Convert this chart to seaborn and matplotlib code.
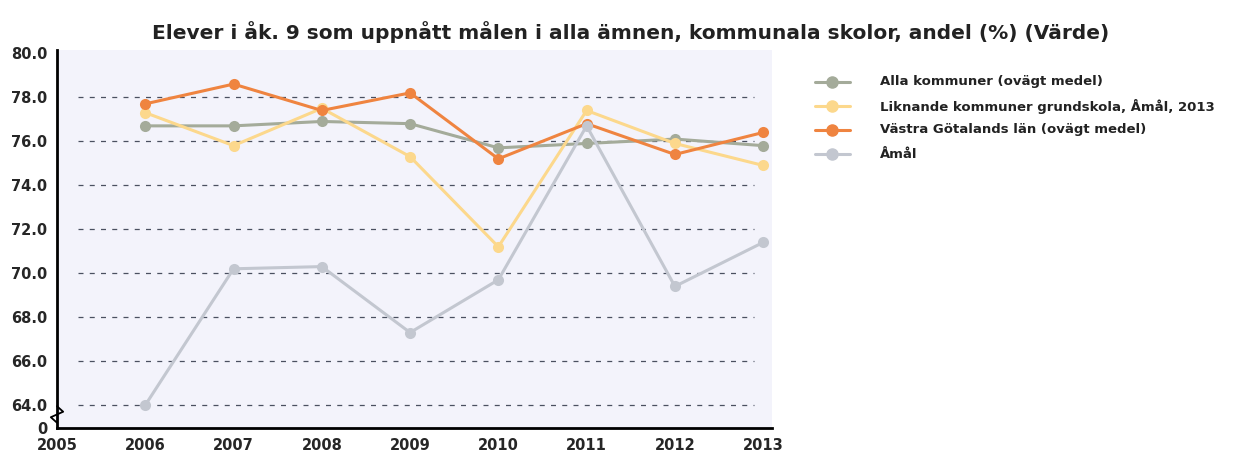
import pandas as pd
import matplotlib.pyplot as plt
import seaborn as sns

years = [2006, 2007, 2008, 2009, 2010, 2011, 2012, 2013]
alla = [76.7, 76.7, 76.9, 76.8, 75.7, 75.9, 76.1, 75.8]
liknande = [77.3, 75.8, 77.5, 75.3, 71.2, 77.4, 75.9, 74.9]
vastra = [77.7, 78.6, 77.4, 78.2, 75.2, 76.8, 75.4, 76.4]
amal = [64.0, 70.2, 70.3, 67.3, 69.7, 76.7, 69.4, 71.4]

series = ['Alla kommuner (ovägt medel)',
          'Liknande kommuner grundskola, Åmål, 2013',
          'Västra Götalands län (ovägt medel)',
          'Åmål']
colors = ['#a4ab9a', '#fcd88c', '#ef8440', '#c3c7d0']

df = pd.concat([
    pd.DataFrame({'År': years, 'Värde': vals, 'Serie': name})
    for name, vals in zip(series, [alla, liknande, vastra, amal])
])

sns.set_style('white')
plt.rcParams['font.family'] = ['DejaVu Sans']

fig = plt.figure(figsize=(12.44, 4.59), dpi=100)
ax = fig.add_axes([57 / 1244, 31 / 459, 715 / 1244, 378 / 459])
ax.set_facecolor('#f3f3fb')

ymin = 62.96
# dashed grid, not full width
for y in range(64, 80, 2):
    ax.axhline(y, xmin=0.03, xmax=0.975, color='#4a5060', lw=0.9, ls=(0, (4, 5)), zorder=1)

sns.lineplot(data=df, x='År', y='Värde', hue='Serie', hue_order=series,
             palette=colors, marker='o', markersize=8, markeredgewidth=0,
             linewidth=2.2, ax=ax, zorder=3, legend=False)

ax.set_xlim(2005, 2013.1)
ax.set_ylim(ymin, 80.15)
ax.set_xticks(list(range(2005, 2014)))
ax.set_xticklabels([str(y) for y in range(2005, 2014)], fontsize=10.5, fontweight='bold')
yt = [ymin] + list(range(64, 82, 2))
ax.set_yticks(yt)
ax.set_yticklabels(['0'] + [f'{v:.1f}' for v in range(64, 82, 2)],
                   fontsize=10.5, fontweight='bold')
ax.tick_params(axis='x', length=5, width=1.5, color='black', direction='out', pad=2)
ax.tick_params(axis='y', length=0, pad=7)
ax.set_xlabel('')
ax.set_ylabel('')

for s in ['top', 'right']:
    ax.spines[s].set_visible(False)
for s in ['left', 'bottom']:
    ax.spines[s].set_color('black')
    ax.spines[s].set_linewidth(2)

# axis break marker
ax.plot([2005, 2004.93, 2005.07, 2005], [63.2, 63.45, 63.7, 63.95], color='black',
        lw=1.3, clip_on=False, zorder=5)

fig.suptitle('Elever i åk. 9 som uppnått målen i alla ämnen, kommunala skolor, andel (%) (Värde)',
             x=0.507, y=0.955, fontsize=14.5, fontweight='bold', color='#222222')

# legend, drawn by hand to match the layout
for i, (name, c) in enumerate(zip(series, colors)):
    yy = 1 - (82 + i * 24) / 459
    fig.lines.append(plt.Line2D([815 / 1244, 850 / 1244], [yy, yy], color=c, lw=2.2,
                                transform=fig.transFigure))
    fig.lines.append(plt.Line2D([832 / 1244], [yy], color=c, marker='o', markersize=8,
                                transform=fig.transFigure))
    fig.text(880 / 1244, yy, name, fontsize=9.5, fontweight='bold',
             va='center', ha='left', color='#222222')

fig.savefig('out.png', dpi=100)
